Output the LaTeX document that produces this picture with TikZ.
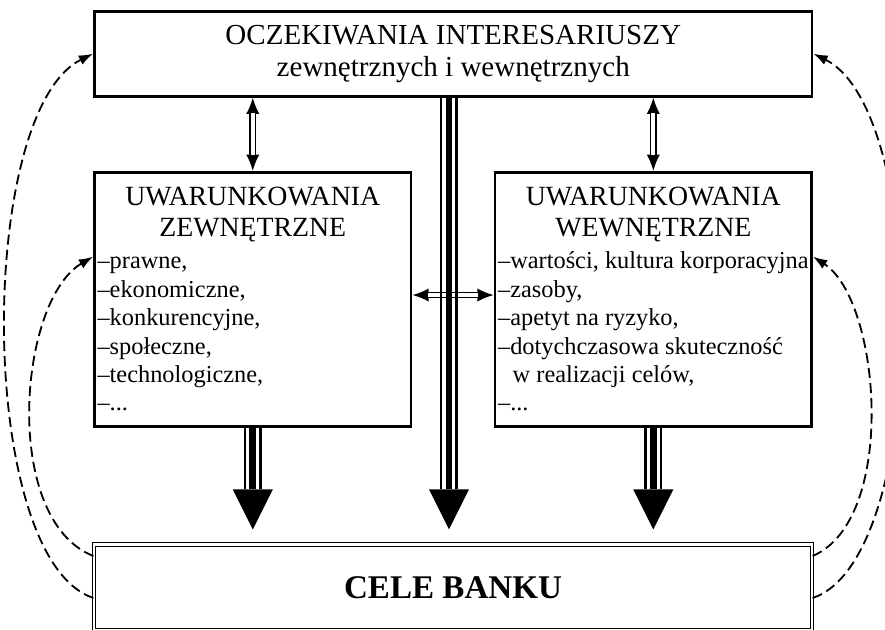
\documentclass[tikz,border=0pt]{standalone}
\usepackage{fontspec}
\setmainfont{Liberation Serif}
\usetikzlibrary{arrows.meta,calc}

\begin{document}
\begin{tikzpicture}[>=Latex,
  ramka/.style={draw,line width=1.4pt,inner sep=1.5pt},
  warunek/.style={ramka,text width=5.375cm,minimum height=4.398cm,align=flush left,font={\fontsize{12}{14}\selectfont}},
  dwugrot/.style={{Latex[length=8pt,width=6.5pt]}-{Latex[length=8pt,width=6.5pt]},line width=0.7pt},
  dwulinia/.style={double,double distance=2pt,line width=0.7pt,shorten <=7.8pt,shorten >=7.8pt},
  kreska/.style={line width=0.7pt,shorten <=7.8pt,shorten >=7.8pt},
  trojlinia/.style={line width=3.4pt,-{Triangle[length=19.7pt,width=19.7pt,line width=0pt]},shorten >=7.1pt,
    preaction={draw,-,line width=9pt,shorten >=26.8pt},
    preaction={draw,-,white,line width=6.4pt,shorten >=26.8pt}},
  sprzezenie/.style={line width=0.9pt,dash pattern=on 5pt off 2.5pt,-{Latex[length=7pt,width=5pt]}}]
% Cele banku: oczekiwania interesariuszy i uwarunkowania
\useasboundingbox (0,0) rectangle (15.322,10.907);
\node[ramka,minimum width=12.422cm,minimum height=1.472cm,align=flush center,font={\fontsize{14.3}{15.8}\selectfont}] (ocz) at (7.847,9.977) {OCZEKIWANIA INTERESARIUSZY\\zewnętrznych i wewnętrznych};
\node[warunek] (zew) at (4.376,5.725) {{\fontsize{13.7}{15.3}\selectfont\centering UWARUNKOWANIA\\ZEWNĘTRZNE\par}\vspace{1.8pt}
  –prawne,\\–ekonomiczne,\\–konkurencyjne,\\–społeczne,\\–technologiczne,\\–...};
\node[warunek] (wew) at (11.311,5.725) {{\fontsize{13.7}{15.3}\selectfont\centering UWARUNKOWANIA\\WEWNĘTRZNE\par}\vspace{1.8pt}
  \mbox{–wartości, kultura korporacyjna}\\–zasoby,\\–apetyt na ryzyko,\\–dotychczasowa skuteczność\\\hspace*{0.6em}w realizacji celów,\\–...};
\node[draw,double,double distance=1.2pt,line width=0.6pt,minimum width=12.431cm,minimum height=1.48cm,font={\fontsize{16.3}{19}\selectfont\bfseries}] (cele) at (7.843,0.740) {CELE BANKU};
\foreach \w in {zew,wew} {
  \draw[dwugrot] (\w.north) -- (\w.north |- ocz.south);
  \draw[dwulinia] (\w.north) -- (\w.north |- ocz.south);
}
\draw[dwugrot] ([yshift=2.1pt]zew.east) -- ([yshift=2.1pt]wew.west);
\draw[dwulinia] ([yshift=2.1pt]zew.east) -- ([yshift=2.1pt]wew.west);
\draw[trojlinia] (zew.south) -- (zew.south |- cele.north);
\draw[trojlinia] (wew.south) -- (wew.south |- cele.north);
\draw[trojlinia] ([xshift=-2.1pt]ocz.south) -- ([xshift=-2.1pt]ocz.south |- cele.north);
\foreach \d in {0.75pt,3.45pt}
  \draw[kreska] ([yshift=\d]zew.east) -- ([yshift=\d]wew.west);
\coordinate (cl1) at ([yshift=15.4pt]cele.west);
\coordinate (cl2) at ([yshift=-5.3pt]cele.west);
\coordinate (cr1) at ([yshift=15.4pt]cele.east);
\coordinate (cr2) at ([yshift=-5.3pt]cele.east);
\coordinate (zl) at ([yshift=21pt]zew.west);
\coordinate (wr) at ([yshift=21pt]wew.east);
\draw[sprzezenie] (cl2) .. controls +(-2.026,0.675) and +(-2.026,-1.004) .. (ocz.west);
\draw[sprzezenie] (cl1) .. controls +(-1.593,0.623) and +(-1.298,-0.762) .. (zl);
\draw[sprzezenie] (cr1) .. controls +(1.472,0.623) and +(1.177,-0.762) .. (wr);
\draw[sprzezenie] (cr2) .. controls +(2.026,0.675) and +(2.026,-1.004) .. (ocz.east);
\end{tikzpicture}
\end{document}
